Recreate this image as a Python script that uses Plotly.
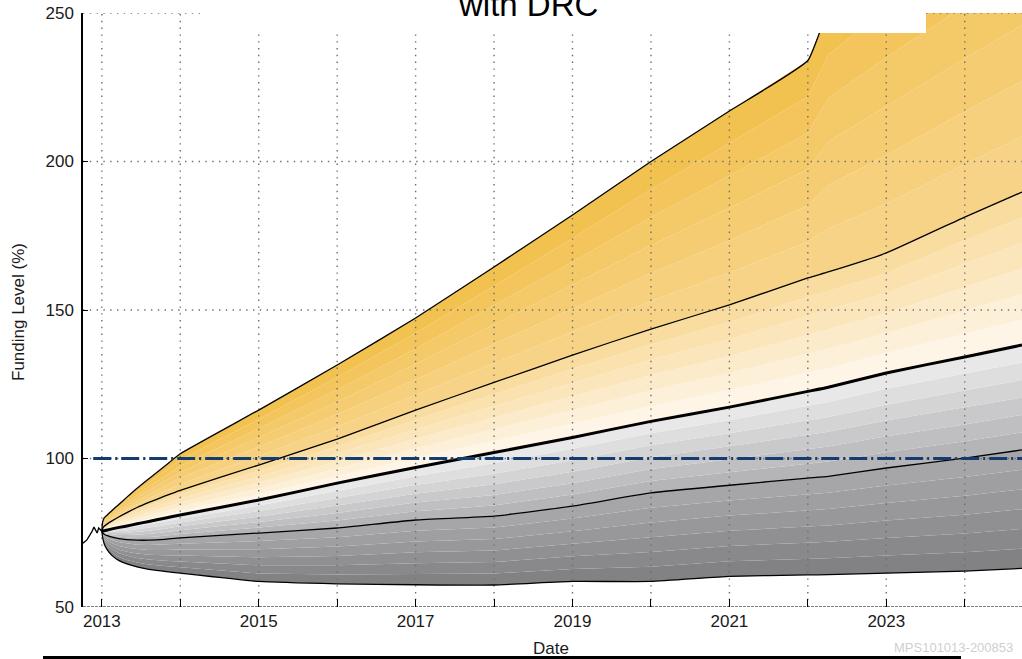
import plotly.graph_objects as go

# Projection dates (decimal years) and funding-level percentiles (%)
dates = [2013.0, 2013.01, 2013.03, 2013.07, 2013.13, 2013.22, 2013.32, 2013.45, 2013.6,
         2013.8, 2014.0, 2015.0, 2016.0, 2017.0, 2018.0, 2019.0, 2020.0, 2021.0,
         2022.0, 2022.26, 2023.0, 2024.0, 2024.73]
upper_edge = [75.5, 78.6, 80.0, 81.0, 82.5, 84.6, 87.0, 90.0, 93.2, 97.4, 101.6,
              116.3, 131.5, 147.3, 164.5, 182.0, 200.0, 217.0, 234.0, 250.5, 268.0,
              288.0, 302.0]
upper_q = [75.5, 76.4, 77.2, 78.0, 79.0, 80.4, 81.8, 83.5, 85.2, 87.3, 89.3,
           97.8, 106.5, 116.3, 125.6, 134.8, 143.6, 151.7, 160.8, 162.8, 169.2,
           181.3, 189.7]
median = [75.5, 75.6, 75.7, 75.9, 76.3, 76.8, 77.3, 78.0, 78.8, 79.9, 81.0,
          86.0, 91.7, 97.0, 102.0, 107.1, 112.5, 117.3, 122.6, 124.0, 128.8,
          134.2, 138.2]
lower_q = [75.5, 75.0, 74.5, 74.0, 73.5, 73.0, 72.7, 72.5, 72.5, 72.8, 73.3,
           74.9, 76.6, 79.3, 80.6, 84.0, 88.4, 91.0, 93.4, 94.0, 96.8,
           100.1, 102.9]
lower_edge = [75.5, 73.5, 71.3, 69.2, 67.3, 65.6, 64.5, 63.5, 62.7, 62.0, 61.4,
              58.6, 57.8, 57.5, 57.4, 58.6, 58.6, 60.3, 60.8, 60.9, 61.4,
              62.1, 63.0]

# Recent history before the projection starts
history_dates = [2012.76, 2012.81, 2012.87, 2012.90, 2012.94, 2012.96, 2013.0]
history_level = [71.5, 72.6, 75.2, 76.9, 74.9, 76.6, 75.5]

# Axis ticks
year_ticks = list(range(2013, 2025))
year_labels = [str(y) if y % 2 == 1 else "" for y in year_ticks]
level_ticks = [50, 100, 150, 200, 250]
x_range = [2012.76, 2024.73]
y_range = [50, 250]

target_level = 100
target_start = 2012.89

FONT = "Liberation Sans, Arial, sans-serif"
N_SHADES = 6

# Shading colours for each percentile interval (bottom colour, top colour)
intervals = [
    (lower_edge, lower_q, (126, 126, 129), (170, 170, 173)),
    (lower_q, median, (176, 176, 179), (237, 237, 237)),
    (median, upper_q, (255, 247, 238), (248, 218, 152)),
    (upper_q, upper_edge, (247, 213, 140), (242, 192, 76)),
]


def blend(a, b, t):
    return [x + (y - x) * t for x, y in zip(a, b)]


def mix(c0, c1, t):
    return "rgb({},{},{})".format(*[round(p + (q - p) * t) for p, q in zip(c0, c1)])


fig = go.Figure()

# Base of the fan
fig.add_trace(go.Scatter(x=dates, y=lower_edge, mode="lines",
                         line=dict(width=0), showlegend=False, hoverinfo="skip"))

# Graded percentile bands
for lo, hi, c_lo, c_hi in intervals:
    for k in range(1, N_SHADES + 1):
        fig.add_trace(go.Scatter(
            x=dates, y=blend(lo, hi, k / N_SHADES), mode="lines",
            line=dict(width=0), fill="tonexty",
            fillcolor=mix(c_lo, c_hi, (k - 0.5) / N_SHADES),
            showlegend=False, hoverinfo="skip"))

# Dotted grid over the shading
gx, gy = [], []
for yr in year_ticks:
    gx += [yr, yr, None]
    gy += [y_range[0], y_range[1], None]
for lv in level_ticks[1:]:
    gx += [x_range[0], x_range[1], None]
    gy += [lv, lv, None]
fig.add_trace(go.Scatter(x=gx, y=gy, mode="lines",
                         line=dict(color="#6e6e6e", width=1.4, dash="1.4px,5.4px"),
                         showlegend=False, hoverinfo="skip"))

# Percentile lines
for series, w in [(upper_edge, 1.3), (upper_q, 1.3), (lower_q, 1.3), (lower_edge, 1.3), (median, 3)]:
    fig.add_trace(go.Scatter(x=dates, y=series, mode="lines",
                             line=dict(color="black", width=w, shape="spline", smoothing=0.4),
                             showlegend=False, hoverinfo="skip"))

fig.add_trace(go.Scatter(x=history_dates, y=history_level, mode="lines",
                         line=dict(color="black", width=1.3),
                         showlegend=False, hoverinfo="skip"))

# 100% funding target
fig.add_trace(go.Scatter(x=[target_start, x_range[1]], y=[target_level, target_level],
                         mode="lines",
                         line=dict(color="#123d6e", width=3, dash="18px,4px,2px,4px"),
                         showlegend=False, hoverinfo="skip"))

plot_l, plot_t, plot_b = 83, 13, 52
W, H = 1022, 659
plot_w = W - plot_l
plot_h = H - plot_t - plot_b


def px_x(x):
    return (x - plot_l) / plot_w


def px_y(y):
    return (H - plot_b - y) / plot_h


fig.update_layout(
    width=W, height=H,
    margin=dict(l=plot_l, r=0, t=plot_t, b=plot_b),
    paper_bgcolor="white", plot_bgcolor="white",
    font=dict(family=FONT, size=17, color="#1a1a1a"),
    xaxis=dict(range=x_range, tickvals=year_ticks, ticktext=year_labels,
               ticks="inside", ticklen=8, tickcolor="black", tickwidth=1,
               showgrid=False, zeroline=False, showline=False,
               tickfont=dict(size=17), ticklabelstandoff=2),
    yaxis=dict(range=y_range, tickvals=level_ticks,
               ticks="inside", ticklen=5, tickcolor="black", tickwidth=1,
               showgrid=False, zeroline=False, showline=True,
               linecolor="black", linewidth=1.5,
               tickfont=dict(size=17), ticklabelstandoff=4),
    shapes=[
        # dashed bottom axis
        dict(type="line", xref="paper", yref="y", x0=0, x1=1, y0=50, y1=50,
             line=dict(color="black", width=1.2, dash="3px,1px"), layer="above"),
        # title panel
        dict(type="rect", xref="paper", yref="paper",
             x0=px_x(205), x1=px_x(926), y0=px_y(33), y1=px_y(-5),
             fillcolor="white", line=dict(width=0), layer="above"),
        # rule under the chart
        dict(type="line", xref="paper", yref="paper",
             x0=px_x(43), x1=px_x(961), y0=px_y(657.5), y1=px_y(657.5),
             line=dict(color="black", width=3)),
    ],
    annotations=[
        dict(text="with DRC", xref="paper", yref="paper", x=px_x(528), y=px_y(4.5),
             xanchor="center", yanchor="middle", showarrow=False,
             font=dict(size=33, color="black")),
        dict(text="Date", xref="paper", yref="paper", x=px_x(551), y=px_y(648),
             xanchor="center", yanchor="middle", showarrow=False,
             font=dict(size=17, color="#1a1a1a")),
        dict(text="Funding Level (%)", xref="paper", yref="paper", x=px_x(18), y=px_y(312),
             xanchor="center", yanchor="middle", showarrow=False, textangle=-90,
             font=dict(size=17, color="#1a1a1a")),
        dict(text="MPS101013-200853", xref="paper", yref="paper", x=px_x(1015), y=px_y(647),
             xanchor="right", yanchor="middle", showarrow=False,
             font=dict(size=13, color="#cfcfcf")),
    ],
)

fig.write_html("out.html")
